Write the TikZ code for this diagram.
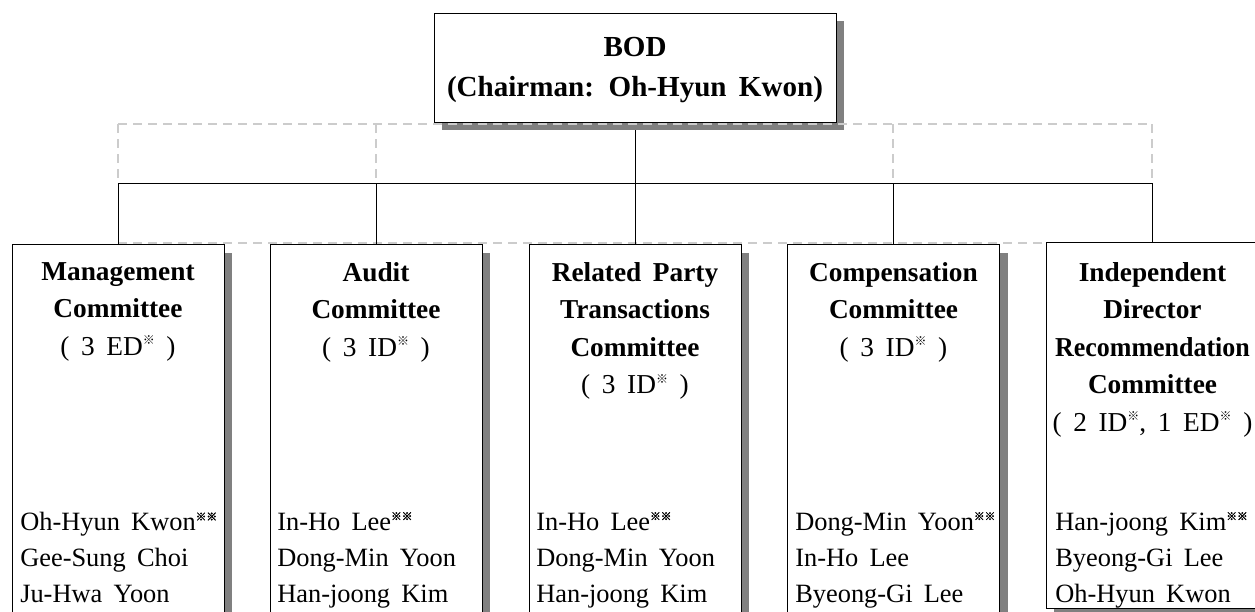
\documentclass[tikz,border=0pt]{standalone}
\usepackage{fontspec}
\setmainfont{Liberation Serif}[WordSpace=1.7]
\newfontfamily\cjk{Noto Sans CJK KR}
\newfontfamily\cjkb{Noto Sans CJK KR}[FakeBold=3]
\usepackage{graphicx}
\usetikzlibrary{shadows,backgrounds}
\newcommand{\refm}{\raisebox{0.38em}{\cjk\fontsize{9}{9}\selectfont ※}}
\newcommand{\refmm}{\raisebox{0.38em}{\cjkb\fontsize{8}{8}\selectfont ※※}}
\begin{document}
\begin{tikzpicture}[x=0.75pt,y=-0.75pt,
  box/.style={draw=black, line width=0.75pt, fill=white, inner sep=0pt,
    drop shadow={shadow xshift=6pt, shadow yshift=-6pt, fill=black!50, opacity=1}},
  conn/.style={draw=black, line width=0.75pt},
  ghost/.style={draw=black!20, line width=1pt, dash pattern=on 6.75pt off 4.5pt},
  bodtext/.style={align=center, inner sep=0pt, font=\fontsize{21.8}{30}\selectfont\bfseries},
  title/.style={anchor=north, align=center, inner sep=0pt, font=\fontsize{20.5}{28.1}\selectfont\bfseries},
  names/.style={anchor=north west, align=left, inner sep=0pt, font=\fontsize{19.8}{27}\selectfont}]
\useasboundingbox (0,0) rectangle (1255,611);
\clip (0,0) rectangle (1255,611);

% BOD
\node[box, minimum width=301.5pt, minimum height=81.75pt] (bod) at (635,67.5) {};
\node[bodtext] (bodt) at (635,70) {BOD\\(Chairman: Oh-Hyun Kwon)};

% committee boxes
\node[box, anchor=north, minimum width=159pt, minimum height=286pt] (c1) at (118,244) {};
\node[box, anchor=north, minimum width=159pt, minimum height=286pt] (c2) at (376,244) {};
\node[box, anchor=north, minimum width=159pt, minimum height=286pt] (c3) at (635,244) {};
\node[box, anchor=north, minimum width=159pt, minimum height=286pt] (c4) at (893.5,244) {};
\node[box, anchor=north, minimum width=159.75pt, minimum height=274.5pt] (c5) at (1152.5,242) {};

% lines behind
\coordinate (hl) at (118,183);
\coordinate (hr) at (1152,183);
\coordinate (gtl) at (118,124);
\coordinate (gtr) at (1152,124);
\coordinate (gbl) at (118,243);
\coordinate (g2) at (376,124);
\coordinate (g4) at (893,124);
\begin{scope}[on background layer]
  \fill[white] (0,0) rectangle (1255,611);
  \draw[ghost] (gbl) -- (gbl -| c5.west);
  \draw[ghost] (gtl) -- (hl);
  \draw[ghost] (g2) -- (g2 |- hl);
  \draw[ghost] (g4) -- (g4 |- hl);
  \draw[ghost] (gtr) -- (hr);
  \draw[conn] (bod.south) -- (bod.south |- hl);
  \draw[conn] (hl) -- (hr);
  \draw[conn] (c1.north) -- (c1.north |- hl);
  \draw[conn] (c2.north) -- (c2.north |- hl);
  \draw[conn] (c3.north) -- (c3.north |- hl);
  \draw[conn] (c4.north) -- (c4.north |- hl);
  \draw[conn] (c5.north) -- (c5.north |- hl);
\end{scope}
\draw[ghost] (gtl) -- (gtr);

% titles
\node[title] (t1) at (118,262) {Management\\Committee\\{\mdseries ( 3 ED\refm{} )}};
\node[title] (t2) at (376,262) {Audit\\Committee\\{\mdseries ( 3 ID\refm{} )}};
\node[title] (t3) at (635,262) {Related Party\\Transactions\\Committee\\{\mdseries ( 3 ID\refm{} )}};
\node[title] (t4) at (893.5,262) {Compensation\\Committee\\{\mdseries ( 3 ID\refm{} )}};
\node[title] (t5) at (1152.5,262) {Independent\\Director\\\scalebox{0.95}[1]{Recommendation}\\Committee\\{\mdseries ( 2 ID\refm, 1 ED\refm{} )}};

% names
\node[names] (n1) at (20,512) {Oh-Hyun Kwon\refmm\\Gee-Sung Choi\\Ju-Hwa Yoon};
\node[names] (n2) at (277,512) {In-Ho Lee\refmm\\Dong-Min Yoon\\Han-joong Kim};
\node[names] (n3) at (536,512) {In-Ho Lee\refmm\\Dong-Min Yoon\\Han-joong Kim};
\node[names] (n4) at (795,512) {Dong-Min Yoon\refmm\\In-Ho Lee\\Byeong-Gi Lee};
\node[names] (n5) at (1055,512) {Han-joong Kim\refmm\\Byeong-Gi Lee\\Oh-Hyun Kwon};
\end{tikzpicture}
\end{document}
